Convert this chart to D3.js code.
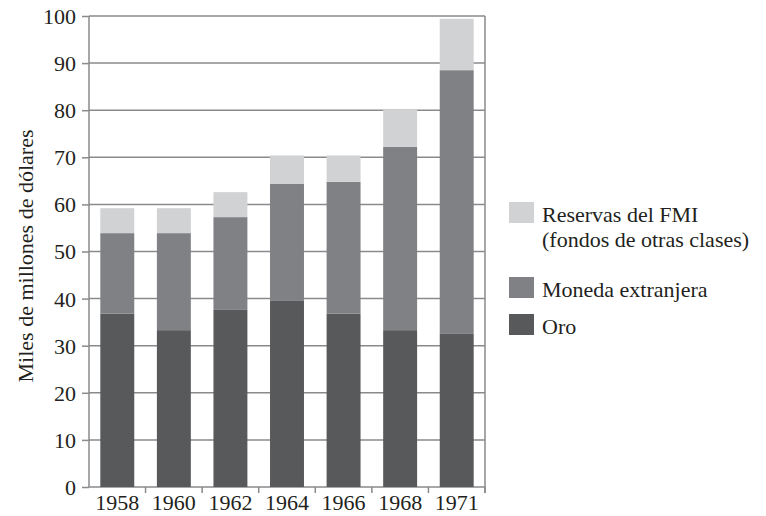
<!DOCTYPE html>
<html>
<head>
<meta charset="utf-8">
<script src="https://cdn.jsdelivr.net/npm/d3@7/dist/d3.min.js"></script>
<style>
  body { margin: 0; background: #fff; }
  text { font-family: "Liberation Serif", "DejaVu Serif", serif; fill: #231f20; }
</style>
</head>
<body>
<div id="chart"></div>
<script>
// valores (miles de millones de dolares)
var years = ['1958', '1960', '1962', '1964', '1966', '1968', '1971'];
var oro = [36.8, 33.3, 37.6, 39.5, 36.8, 33.3, 32.5];
var moneda = [17.1, 20.6, 19.7, 24.9, 28.0, 38.9, 56.0];
var reservas = [5.3, 5.3, 5.3, 6.0, 5.6, 8.0, 10.9];
var yTicks = [0, 10, 20, 30, 40, 50, 60, 70, 80, 90, 100];
var colors = ['#58595b', '#808184', '#d1d2d4'];

var W = 766, H = 516;
var margin = {top: 16, left: 89, right: 281, bottom: 29};
var fs = '22px';

var svg = d3.select('#chart').append('svg').attr('width', W).attr('height', H);

var x = d3.scaleBand().domain(years)
    .range([margin.left, W - margin.right]).paddingInner(0.4).paddingOuter(0.2);
var y = d3.scaleLinear().domain([0, 100]).range([H - margin.bottom, margin.top]);

var rows = years.map(function(yr, i) {
    return {year: yr, oro: oro[i], moneda: moneda[i], reservas: reservas[i]};
});
var layers = d3.stack().keys(['oro', 'moneda', 'reservas'])(rows);

// lineas de la cuadricula
svg.append('g').selectAll('line').data(yTicks).enter().append('line')
    .attr('x1', margin.left).attr('x2', W - margin.right)
    .attr('y1', function(d) { return y(d); }).attr('y2', function(d) { return y(d); })
    .style('stroke', '#8a8a8c').style('stroke-width', 1.5);

// barras
svg.append('g').selectAll('g').data(layers).enter().append('g')
    .style('fill', function(d, i) { return colors[i]; })
    .selectAll('rect').data(function(d) { return d; }).enter().append('rect')
    .attr('x', function(d) { return x(d.data.year); })
    .attr('width', x.bandwidth())
    .attr('y', function(d) { return y(d[1]); })
    .attr('height', function(d) { return y(d[0]) - y(d[1]); });

// marco
svg.append('line').attr('x1', W - margin.right).attr('x2', W - margin.right)
    .attr('y1', y(100)).attr('y2', y(0) + 6)
    .style('stroke', '#8a8a8c').style('stroke-width', 1.5);
svg.append('line').attr('x1', margin.left).attr('x2', margin.left)
    .attr('y1', y(100)).attr('y2', y(0))
    .style('stroke', '#8a8a8c').style('stroke-width', 1.5);

// eje y
var yAxis = svg.append('g').attr('transform', 'translate(' + margin.left + ',0)')
    .call(d3.axisLeft(y).tickValues(yTicks).tickSize(7).tickPadding(6));
yAxis.select('.domain').remove();
yAxis.selectAll('line').style('stroke', '#8a8a8c').style('stroke-width', 1.5);
yAxis.selectAll('text').attr('dy', '0.34em')
    .style('font-size', fs).style('font-family', '"Liberation Serif", serif').style('fill', '#231f20');

// eje x: marcas entre las barras
var step = x.step();
svg.append('g').selectAll('line').data(years).enter().append('line')
    .attr('x1', function(d) { return x(d) - x.paddingInner() * step / 2 + step; })
    .attr('x2', function(d) { return x(d) - x.paddingInner() * step / 2 + step; })
    .attr('y1', y(0)).attr('y2', y(0) + 6)
    .style('stroke', '#8a8a8c').style('stroke-width', 1.5);

svg.append('g').selectAll('text').data(years).enter().append('text')
    .attr('x', function(d) { return x(d) + x.bandwidth() / 2; })
    .attr('y', 510)
    .attr('text-anchor', 'middle')
    .style('font-size', fs)
    .text(function(d) { return d; });

// titulo del eje y
svg.append('text')
    .attr('transform', 'translate(33,256) rotate(-90)')
    .attr('text-anchor', 'middle')
    .style('font-size', fs)
    .text('Miles de millones de dólares');

// leyenda
var legend = [
    {c: colors[2], lines: ['Reservas del FMI', '(fondos de otras clases)'], y: 202},
    {c: colors[1], lines: ['Moneda extranjera'], y: 277},
    {c: colors[0], lines: ['Oro'], y: 314}
];
var lg = svg.append('g').selectAll('g').data(legend).enter().append('g');
lg.append('rect').attr('x', 509).attr('y', function(d) { return d.y; })
    .attr('width', 25).attr('height', 21)
    .style('fill', function(d) { return d.c; });
lg.each(function(d) {
    d3.select(this).selectAll('text').data(d.lines).enter().append('text')
        .attr('x', 542)
        .attr('y', function(t, i) { return d.y + 20 + i * 25; })
        .style('font-size', fs)
        .text(function(t) { return t; });
});
</script>
</body>
</html>
